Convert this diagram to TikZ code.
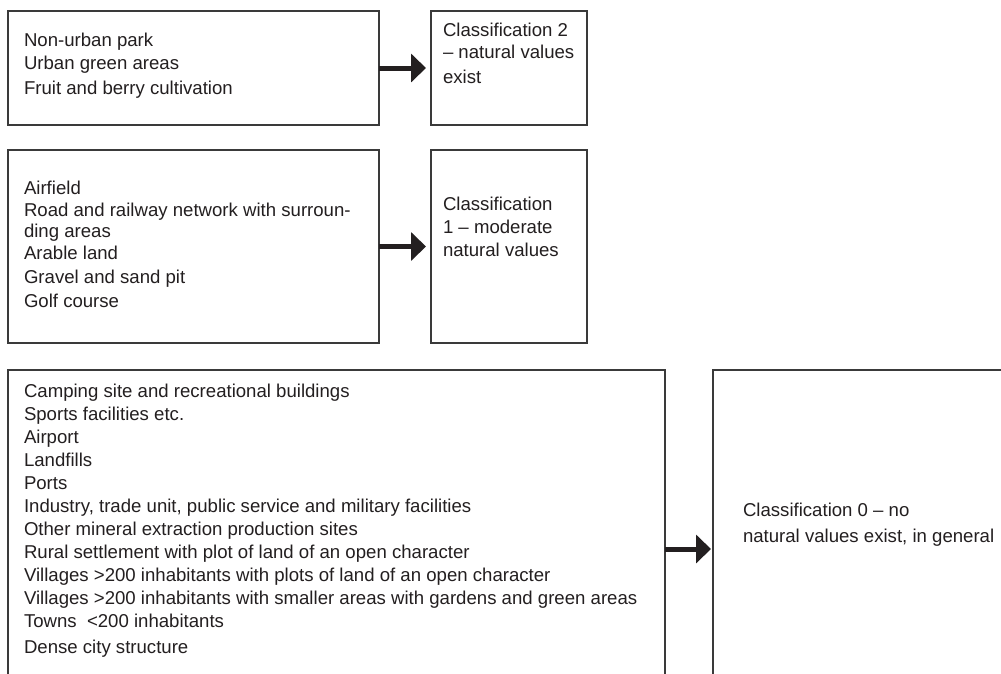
\documentclass[tikz,border=0pt]{standalone}
\usepackage{fontspec}
\setmainfont{Liberation Sans}
\usetikzlibrary{arrows.meta}
\definecolor{ink}{HTML}{231F20}
\definecolor{frame}{HTML}{3A3A3A}

\begin{document}
\begin{tikzpicture}[x=1pt,y=-1pt,
  box/.style={draw=frame, line width=1.3pt, rectangle, inner sep=0pt, outer sep=0pt, anchor=north west},
  txt/.style={anchor=base west, inner sep=0pt, outer sep=0pt, text=ink, font=\fontsize{18.6}{22}\selectfont},
  flow/.style={draw=ink, line width=5pt, line cap=butt, -{Triangle[length=15pt,width=28pt]}}]
\useasboundingbox (0,0) rectangle (1001,673);
\clip (0,0) rectangle (1001,673);
\fill[white] (0,0) rectangle (1001,673);

% frames
\node[box, minimum width=371pt, minimum height=114pt] (b1) at (8,11) {};
\node[box, minimum width=156pt, minimum height=114pt] (b2) at (431,11) {};
\node[box, minimum width=371pt, minimum height=193pt] (b3) at (8,150) {};
\node[box, minimum width=156pt, minimum height=193pt] (b4) at (431,150) {};
\node[box, minimum width=657pt, minimum height=358pt] (b5) at (8,370) {};
\node[box, minimum width=360pt, minimum height=358pt] (b6) at (713,370) {};

% land-use lists
\foreach \y/\t [count=\i] in {46.7/Non-urban park, 69/Urban green areas, 94.3/Fruit and berry cultivation}
  \node[txt] (t1-\i) at (24,\y) {\t};
\foreach \y/\t [count=\i] in {194/Airfield, 216/Road and railway network with surroun-, 237.5/ding areas,
    259/Arable land, 283/Gravel and sand pit, 307/Golf course}
  \node[txt] (t3-\i) at (24,\y) {\t};
\foreach \y/\t [count=\i] in {397/Camping site and recreational buildings, 420/Sports facilities etc.,
    443/Airport, 466/Landfills, 489/Ports,
    512/{Industry, trade unit, public service and military facilities},
    535/Other mineral extraction production sites,
    558/Rural settlement with plot of land of an open character,
    581/Villages >200 inhabitants with plots of land of an open character,
    604/Villages >200 inhabitants with smaller areas with gardens and green areas,
    627/Towns\ \ <200 inhabitants, 653/Dense city structure}
  \node[txt] (t5-\i) at (24,\y) {\t};

% classifications
\node[txt] (t2-1) at (443,36.2) {Classification 2};
\node[txt] (t2-2) at (443,58.5) {\textendash{} natural values};
\node[txt] (t2-3) at (443,83) {exist};
\node[txt] (t4-1) at (443,210) {Classification};
\node[txt] (t4-2) at (443,233.3) {1 \textendash{} moderate};
\node[txt] (t4-3) at (443,256.7) {natural values};
\node[txt] (t6-1) at (743,516) {Classification 0 \textendash{} no};
\node[txt] (t6-2) at (743,542) {natural values exist, in general};

% arrows
\draw[flow, shorten >=5pt] (b1.east) -- (b2.west);
\draw[flow, shorten >=5pt] (b3.east) -- (b4.west);
\draw[flow, shorten >=2pt] (b5.east) -- (b6.west);
\end{tikzpicture}
\end{document}
